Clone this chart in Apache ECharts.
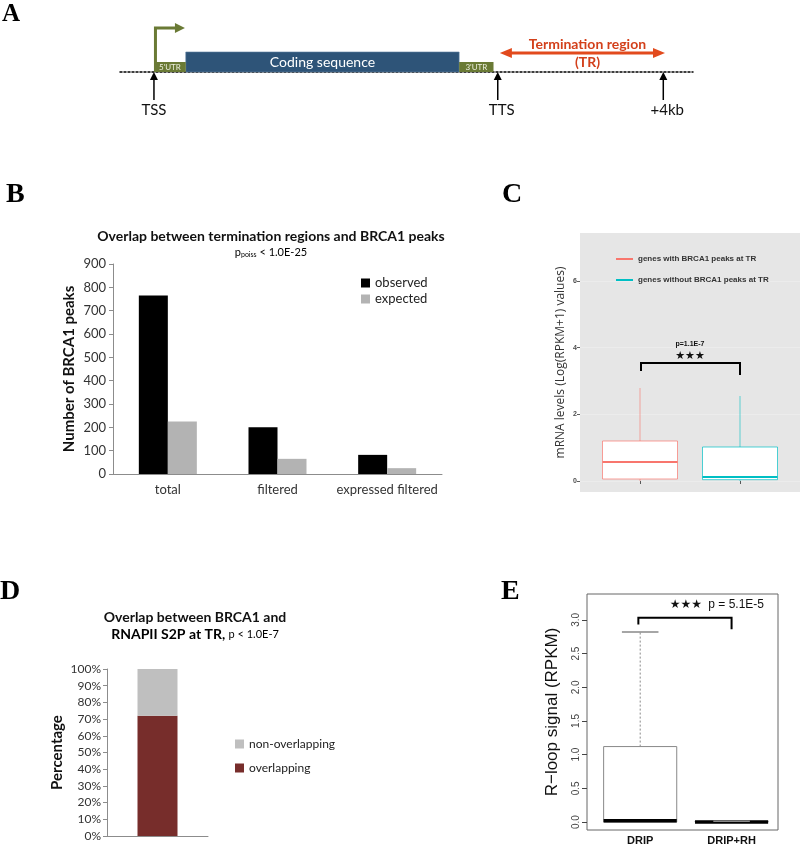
<!DOCTYPE html>
<html>
<head>
<meta charset="utf-8">
<script src="https://cdn.jsdelivr.net/npm/echarts@6/dist/echarts.min.js"></script>
<style>
  html, body { margin: 0; padding: 0; background: #fff; }
  #chart { width: 800px; height: 846px; }
</style>
</head>
<body>
<div id="chart"></div>
<script>
// ---- Panel A: gene schematic, positions in kb (TSS = 0) ----
const utrRegions = [[0, 0.75], [7.19, 8.0]];
const utrNames = ["5'UTR", "3'UTR"];
const codingRegion = [[0.75, 7.19]];
const tssArrow = [[0, 0.73]];
const sitePositions = [[0], [8.1], [12]];
const siteNames = ['TSS', 'TTS', '+4kb'];
const terminationRegion = [[8.15, 12.04]];

// ---- Panel B ----
const peakCategories = ['total', 'filtered', 'expressed filtered'];
const observedPeaks = [765, 200, 82];
const expectedPeaks = [225, 65, 25];

// ---- Panel C: [min, q1, median, q3, max] ----
const mrnaGroups = ['genes with BRCA1 peaks at TR', 'genes without BRCA1 peaks at TR'];
const mrnaBoxes = [[0, 0.06, 0.57, 1.2, 2.79], [0, 0.04, 0.12, 1.02, 2.55]];
const mrnaTicks = [0, 2, 4, 6];
const mrnaBracket = [[1.01, 2.0, 3.54, 3.3, 3.18]];
const mrnaNotes = ['p=1.1E-7', '★★★'];
const mrnaNotePos = [[1.5, 4.11], [1.5, 3.75]];

// ---- Panel D ----
const overlapping = [72];
const nonOverlapping = [28];

// ---- Panel E: [min, q1, median, q3, max] ----
const dripGroups = ['DRIP', 'DRIP+RH'];
const rloopBoxes = [[0, 0, 0.02, 1.12, 2.82], [0, 0, 0, 0.01, 0.01]];
const rloopTicks = [0, 0.5, 1, 1.5, 2, 2.5, 3];
const rloopBracket = [[0.98, 2.0, 3.03, 2.93, 2.86]];
const rloopNotes = ['★★★', 'p = 5.1E-5'];
const rloopNotePos = [[1.5, 3.22], [2.05, 3.22]];

const GREEN = '#6a7a35';
const BLUE = '#2e5478';
const ORANGE = '#e24a1d';
const RED = '#F8766D';
const CYAN = '#00BFC4';

const chart = echarts.init(document.getElementById('chart'));

function head(tip, dx, dy, len, wid) {
  // triangle arrow head pointing along (dx, dy)
  const bx = tip[0] - dx * len, by = tip[1] - dy * len;
  return [tip, [bx - dy * wid / 2, by + dx * wid / 2], [bx + dy * wid / 2, by - dx * wid / 2]];
}

function textEl(text, pos, font, fill, align) {
  return {
    type: 'text',
    style: { text: text, x: pos[0], y: pos[1], align: align || 'center', verticalAlign: 'middle', font: font, fill: fill }
  };
}

function boxRenderer(half, style) {
  return function (params, api) {
    const x = api.value(0);
    const mn = api.value(1), q1 = api.value(2), md = api.value(3), q3 = api.value(4), mx = api.value(5);
    const c = api.visual('color');
    const pTop = api.coord([x - half, q3]);
    const pBot = api.coord([x + half, q1]);
    const wTop = api.coord([x, mx]);
    const wQ3 = api.coord([x, q3]);
    const wQ1 = api.coord([x, q1]);
    const wMin = api.coord([x, mn]);
    const mL = api.coord([x - half, md]);
    const mR = api.coord([x + half, md]);
    const stroke = style.boxColor || c;
    const children = [
      { type: 'line', shape: { x1: wQ3[0], y1: wQ3[1], x2: wTop[0], y2: wTop[1] },
        style: { stroke: style.whiskerColor || c, lineWidth: style.whiskerWidth, lineDash: style.dash || null } },
      { type: 'line', shape: { x1: wQ1[0], y1: wQ1[1], x2: wMin[0], y2: wMin[1] },
        style: { stroke: style.whiskerColor || c, lineWidth: style.whiskerWidth, lineDash: style.dash || null } },
      { type: 'rect', shape: { x: pTop[0], y: pTop[1], width: pBot[0] - pTop[0], height: Math.max(pBot[1] - pTop[1], 0.5) },
        style: { fill: '#fff', stroke: stroke, lineWidth: style.boxWidth } },
      { type: 'line', shape: { x1: mL[0], y1: mL[1], x2: mR[0], y2: mR[1] },
        style: { stroke: style.medianColor || c, lineWidth: style.medianWidth } }
    ];
    if (style.cap) {
      const cL = api.coord([x - half / 2, mx]);
      const cR = api.coord([x + half / 2, mx]);
      children.push({ type: 'line', shape: { x1: cL[0], y1: cL[1], x2: cR[0], y2: cR[1] },
        style: { stroke: style.whiskerColor, lineWidth: 1.5 } });
    }
    return { type: 'group', children: children };
  };
}

function bracketRenderer(width) {
  return function (params, api) {
    const x1 = api.value(0), x2 = api.value(1), yt = api.value(2), yl = api.value(3), yr = api.value(4);
    return {
      type: 'polyline',
      shape: { points: [api.coord([x1, yl]), api.coord([x1, yt]), api.coord([x2, yt]), api.coord([x2, yr])] },
      style: { stroke: '#000', lineWidth: width, fill: null }
    };
  };
}

function noteRenderer(labels, fonts) {
  return function (params, api) {
    const p = api.coord([api.value(0), api.value(1)]);
    return textEl(labels[params.dataIndex], p, fonts[params.dataIndex], '#111');
  };
}

const option = {
  animation: false,
  backgroundColor: '#fff',
  grid: [
    { left: 120, right: 107, top: 22, height: 90 },                 // A
    { left: 113, width: 329, top: 264, height: 210 },               // B
    { left: 580, width: 220, top: 233, height: 259, show: true,     // C
      backgroundColor: '#e6e6e6', borderWidth: 0 },
    { left: 107, width: 101, top: 669, height: 167 },               // D
    { left: 587, width: 191, top: 594, height: 237, show: true,     // E
      borderColor: '#666', borderWidth: 1 }
  ],
  xAxis: [
    { gridIndex: 0, type: 'value', min: -0.8, max: 12.7,
      axisLine: { show: true, onZero: true, lineStyle: { color: '#000', width: 1.5, type: [2, 2] } },
      axisTick: { show: false }, axisLabel: { show: false }, splitLine: { show: false } },
    { gridIndex: 1, type: 'category', data: peakCategories,
      axisLine: { lineStyle: { color: '#8c8c8c' } },
      axisTick: { length: 4, lineStyle: { color: '#8c8c8c' } },
      axisLabel: { interval: 0, color: '#333', fontFamily: 'Lato', fontSize: 13, margin: 9 } },
    { gridIndex: 2, type: 'value', min: 0.4, max: 2.6,
      axisLine: { show: false },
      axisTick: { show: true, customValues: [1, 2], length: 3, lineStyle: { color: '#333', width: 0.8 } },
      axisLabel: { show: false }, splitLine: { show: false } },
    { gridIndex: 3, type: 'category', data: [''],
      axisLine: { lineStyle: { color: '#8c8c8c' } },
      axisTick: { length: 4, lineStyle: { color: '#8c8c8c' } },
      axisLabel: { show: false } },
    { gridIndex: 4, type: 'value', min: 0.418, max: 2.508,
      axisLine: { show: false }, axisTick: { show: false }, splitLine: { show: false },
      axisLabel: { customValues: [1, 2], formatter: v => dripGroups[Math.round(v) - 1],
        fontFamily: 'Liberation Sans', fontWeight: 'bold', fontSize: 11, color: '#111', margin: 5 } }
  ],
  yAxis: [
    { gridIndex: 0, type: 'value', min: -4, max: 5, show: false },
    { gridIndex: 1, type: 'value', min: 0, max: 900, interval: 100,
      name: 'Number of BRCA1 peaks', nameLocation: 'middle', nameGap: 36,
      nameTextStyle: { fontFamily: 'Lato', fontWeight: 'bold', fontSize: 15, color: '#111' },
      axisLine: { show: true, lineStyle: { color: '#8c8c8c' } },
      axisTick: { show: true, length: 4, lineStyle: { color: '#8c8c8c' } },
      axisLabel: { color: '#333', fontFamily: 'Lato', fontSize: 13, margin: 7 },
      splitLine: { show: false } },
    { gridIndex: 2, type: 'value', min: -0.33, max: 7.44, splitNumber: 4,
      name: 'mRNA levels (Log(RPKM+1) values)', nameLocation: 'middle', nameGap: 13,
      nameTextStyle: { fontFamily: 'Open Sans', fontSize: 12, color: '#333' },
      axisLine: { show: false },
      axisTick: { show: true, customValues: mrnaTicks, length: 3, lineStyle: { color: '#333', width: 0.8 } },
      axisLabel: { customValues: mrnaTicks, fontFamily: 'Liberation Sans', fontWeight: 'bold', fontSize: 7, color: '#4d4d4d', margin: 3 },
      splitLine: { show: true, lineStyle: { color: '#eeeeee', width: 0.8 } } },
    { gridIndex: 3, type: 'value', min: 0, max: 100, interval: 10,
      name: 'Percentage', nameLocation: 'middle', nameGap: 42,
      nameTextStyle: { fontFamily: 'Lato', fontWeight: 'bold', fontSize: 15, color: '#111' },
      axisLine: { show: true, lineStyle: { color: '#8c8c8c' } },
      axisTick: { show: true, length: 4, lineStyle: { color: '#8c8c8c' } },
      axisLabel: { formatter: '{value}%', color: '#333', fontFamily: 'Lato', fontSize: 12, margin: 6 },
      splitLine: { show: false } },
    { gridIndex: 4, type: 'value', min: -0.118, max: 3.384,
      name: 'R\u2212loop signal (RPKM)', nameLocation: 'middle', nameGap: 26,
      nameTextStyle: { fontFamily: 'Liberation Sans', fontSize: 17, color: '#111' },
      axisLine: { show: false },
      axisTick: { show: true, customValues: rloopTicks, length: 5, lineStyle: { color: '#444' } },
      axisLabel: { customValues: rloopTicks, rotate: 90, formatter: v => v.toFixed(1),
        fontFamily: 'Liberation Sans', fontSize: 10, color: '#444', margin: 6 },
      splitLine: { show: false } }
  ],
  legend: [
    { data: ['observed', 'expected'], orient: 'vertical', left: 356, top: 270,
      icon: 'rect', itemWidth: 9, itemHeight: 9, itemGap: 0,
      textStyle: { fontFamily: 'Lato', fontSize: 13, color: '#222', lineHeight: 16 } },
    { data: mrnaGroups, orient: 'vertical', left: 611, top: 250,
      icon: 'rect', itemWidth: 17, itemHeight: 2, itemGap: 13,
      textStyle: { fontFamily: 'Liberation Sans', fontWeight: 'bold', fontSize: 8, color: '#333' } },
    { data: ['non-overlapping', 'overlapping'], orient: 'vertical', left: 230, top: 731,
      icon: 'rect', itemWidth: 9, itemHeight: 9, itemGap: 8,
      textStyle: { fontFamily: 'Lato', fontSize: 12, color: '#222', lineHeight: 16 } }
  ],
  graphic: [
    { type: 'text', left: 2, top: 2, style: { text: 'A', font: 'bold 25px "Liberation Serif"', fill: '#000' } },
    { type: 'text', left: 6, top: 181, style: { text: 'B', font: 'bold 28px "Liberation Serif"', fill: '#000' } },
    { type: 'text', left: 502, top: 181, style: { text: 'C', font: 'bold 28px "Liberation Serif"', fill: '#000' } },
    { type: 'text', left: 0, top: 578, style: { text: 'D', font: 'bold 28px "Liberation Serif"', fill: '#000' } },
    { type: 'text', left: 501, top: 578, style: { text: 'E', font: 'bold 28px "Liberation Serif"', fill: '#000' } },
    { type: 'text', x: 271, y: 236,
      style: { text: 'Overlap between termination regions and BRCA1 peaks', align: 'center', verticalAlign: 'middle',
        font: 'bold 14px Lato', fill: '#111' } },
    { type: 'text', x: 271, y: 252,
      style: { text: '{n|p}{s|poiss}{n| < 1.0E-25}', align: 'center', verticalAlign: 'middle',
        rich: { n: { fontFamily: 'Lato', fontSize: 11, color: '#333' },
                s: { fontFamily: 'Lato', fontSize: 7, color: '#333', padding: [6, 0, 0, 0] } } } },
    { type: 'text', x: 195, y: 617,
      style: { text: 'Overlap between BRCA1 and', align: 'center', verticalAlign: 'middle',
        font: 'bold 14px Lato', fill: '#111' } },
    { type: 'text', x: 195, y: 634,
      style: { text: '{b|RNAPII S2P at TR,} {s|p < 1.0E-7}', align: 'center', verticalAlign: 'middle',
        rich: { b: { fontFamily: 'Lato', fontWeight: 'bold', fontSize: 14, color: '#111' },
                s: { fontFamily: 'Lato', fontSize: 11, color: '#333' } } } }
  ],
  series: [
    // ---- A ----
    { type: 'custom', xAxisIndex: 0, yAxisIndex: 0, data: codingRegion, z: 3,
      renderItem: (params, api) => {
        const p0 = api.coord([api.value(0), 2]);
        const p1 = api.coord([api.value(1), 0]);
        return { type: 'group', children: [
          { type: 'rect', shape: { x: p0[0], y: p0[1], width: p1[0] - p0[0], height: p1[1] - p0[1] },
            style: { fill: BLUE, stroke: '#5b7ea0', lineWidth: 0.6 } },
          textEl('Coding sequence', [(p0[0] + p1[0]) / 2, (p0[1] + p1[1]) / 2], '14px Lato', '#fff')
        ] };
      } },
    { type: 'custom', xAxisIndex: 0, yAxisIndex: 0, data: utrRegions, z: 3,
      renderItem: (params, api) => {
        const p0 = api.coord([api.value(0), 1]);
        const p1 = api.coord([api.value(1), 0]);
        return { type: 'group', children: [
          { type: 'rect', shape: { x: p0[0], y: p0[1], width: p1[0] - p0[0], height: p1[1] - p0[1] },
            style: { fill: GREEN } },
          textEl(utrNames[params.dataIndex], [(p0[0] + p1[0]) / 2, (p0[1] + p1[1]) / 2 + 0.5], '8px Lato', '#eef0e0')
        ] };
      } },
    { type: 'custom', xAxisIndex: 0, yAxisIndex: 0, data: tssArrow, z: 3,
      renderItem: (params, api) => {
        const base = api.coord([api.value(0), 1]);
        const corner = api.coord([api.value(0), 4.4]);
        const tip = api.coord([api.value(1), 4.4]);
        return { type: 'group', children: [
          { type: 'polyline', shape: { points: [[base[0] + 1.5, base[1]], [corner[0] + 1.5, corner[1]], [tip[0] - 8, tip[1]]] },
            style: { stroke: GREEN, lineWidth: 3, fill: null } },
          { type: 'polygon', shape: { points: head(tip, 1, 0, 10, 10) }, style: { fill: GREEN } }
        ] };
      } },
    { type: 'custom', xAxisIndex: 0, yAxisIndex: 0, data: sitePositions, z: 3,
      renderItem: (params, api) => {
        const x = api.value(0);
        const top = api.coord([x, 0]);
        const bot = api.coord([x, -2.8]);
        const lab = api.coord([x, -3.8]);
        return { type: 'group', children: [
          { type: 'line', shape: { x1: bot[0], y1: bot[1], x2: top[0], y2: top[1] + 5 },
            style: { stroke: '#000', lineWidth: 1.5 } },
          { type: 'polygon', shape: { points: head(top, 0, -1, 8, 8) }, style: { fill: '#000' } },
          textEl(siteNames[params.dataIndex], [lab[0] + (params.dataIndex ? 4 : 0), lab[1]], '15px Lato', '#111')
        ] };
      } },
    { type: 'custom', xAxisIndex: 0, yAxisIndex: 0, data: terminationRegion, z: 3,
      renderItem: (params, api) => {
        const l = api.coord([api.value(0), 1.9]);
        const r = api.coord([api.value(1), 1.9]);
        const mid = (l[0] + r[0]) / 2 + 5;
        return { type: 'group', children: [
          { type: 'line', shape: { x1: l[0] + 8, y1: l[1], x2: r[0] - 8, y2: r[1] },
            style: { stroke: ORANGE, lineWidth: 3 } },
          { type: 'polygon', shape: { points: head(l, -1, 0, 12, 10) }, style: { fill: ORANGE } },
          { type: 'polygon', shape: { points: head(r, 1, 0, 12, 10) }, style: { fill: ORANGE } },
          textEl('Termination region', [mid, api.coord([0, 2.8])[1]], 'bold 14px Lato', '#d3401b'),
          textEl('(TR)', [mid, api.coord([0, 1.0])[1]], 'bold 14px Lato', '#d3401b')
        ] };
      } },

    // ---- B ----
    { name: 'observed', type: 'bar', xAxisIndex: 1, yAxisIndex: 1, data: observedPeaks,
      barWidth: 29, barGap: '0%', itemStyle: { color: '#000' } },
    { name: 'expected', type: 'bar', xAxisIndex: 1, yAxisIndex: 1, data: expectedPeaks,
      barWidth: 29, barGap: '0%', itemStyle: { color: '#b3b3b3' } },

    // ---- C ----
    { name: mrnaGroups[0], type: 'custom', xAxisIndex: 2, yAxisIndex: 2, itemStyle: { color: RED },
      data: [[1].concat(mrnaBoxes[0])],
      renderItem: boxRenderer(0.375, { whiskerWidth: 0.6, boxWidth: 0.7, medianWidth: 2 }) },
    { name: mrnaGroups[1], type: 'custom', xAxisIndex: 2, yAxisIndex: 2, itemStyle: { color: CYAN },
      data: [[2].concat(mrnaBoxes[1])],
      renderItem: boxRenderer(0.375, { whiskerWidth: 0.6, boxWidth: 0.7, medianWidth: 2 }) },
    { type: 'custom', xAxisIndex: 2, yAxisIndex: 2, data: mrnaBracket, renderItem: bracketRenderer(2) },
    { type: 'custom', xAxisIndex: 2, yAxisIndex: 2, data: mrnaNotePos,
      renderItem: noteRenderer(mrnaNotes, ['bold 7px "Liberation Sans"', '11px "DejaVu Sans"']) },

    // ---- D ----
    { name: 'overlapping', type: 'bar', stack: 'd', xAxisIndex: 3, yAxisIndex: 3, data: overlapping,
      barWidth: 40, itemStyle: { color: '#772d2b' } },
    { name: 'non-overlapping', type: 'bar', stack: 'd', xAxisIndex: 3, yAxisIndex: 3, data: nonOverlapping,
      barWidth: 40, itemStyle: { color: '#bfbfbf' } },

    // ---- E ----
    { type: 'custom', xAxisIndex: 4, yAxisIndex: 4, itemStyle: { color: '#888' },
      data: rloopBoxes.map((b, i) => [i + 1].concat(b)),
      renderItem: boxRenderer(0.4, { whiskerWidth: 1, whiskerColor: '#888', dash: [2, 2], boxColor: '#888',
        boxWidth: 1, medianColor: '#000', medianWidth: 3.5, cap: true }) },
    { type: 'custom', xAxisIndex: 4, yAxisIndex: 4, data: rloopBracket, renderItem: bracketRenderer(2) },
    { type: 'custom', xAxisIndex: 4, yAxisIndex: 4, data: rloopNotePos,
      renderItem: noteRenderer(rloopNotes, ['12px "DejaVu Sans"', '12px "Liberation Sans"']) }
  ]
};

chart.setOption(option);
</script>
</body>
</html>
